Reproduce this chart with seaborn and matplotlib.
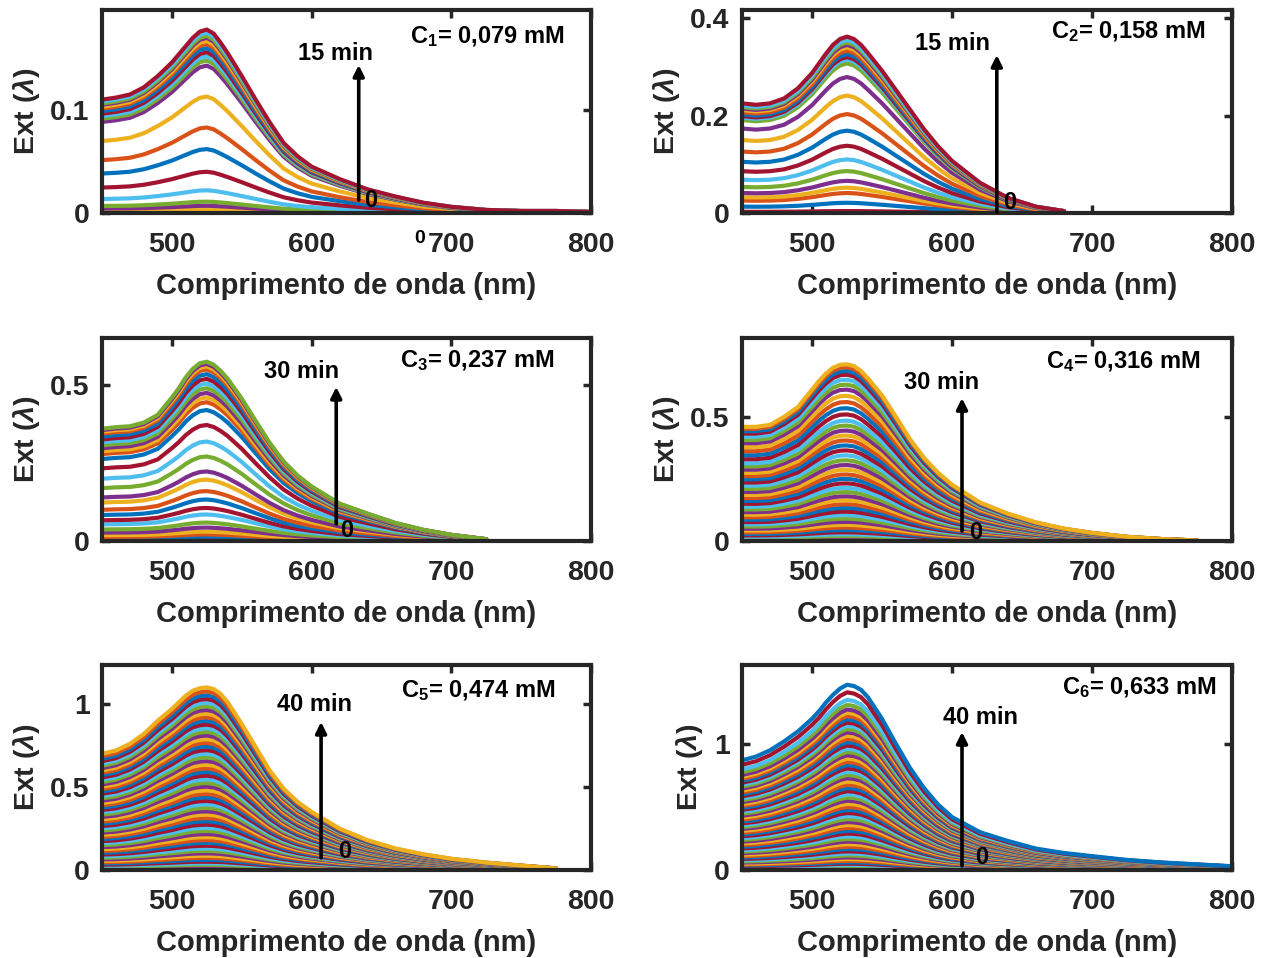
import numpy as np
import pandas as pd
import matplotlib
matplotlib.use("Agg")
import matplotlib.pyplot as plt
import seaborn as sns

# ---------------- data ----------------
wavelength = [450, 460, 470, 480, 490, 500, 505, 510, 515, 520, 525, 530, 535, 540,
              550, 560, 570, 580, 590, 600, 620, 640, 660, 680, 700, 725, 750, 775, 800]

# uppermost (final) spectrum of each series
top_c1 = [0.11, 0.112, 0.115, 0.122, 0.133, 0.146, 0.154, 0.162, 0.17, 0.176, 0.178, 0.174, 0.165, 0.155,
          0.133, 0.11, 0.088, 0.068, 0.055, 0.045, 0.033, 0.023, 0.016, 0.01, 0.006, 0.003, 0.002, 0.002, 0.001]
top_c2 = [0.225, 0.222, 0.225, 0.235, 0.256, 0.287, 0.307, 0.327, 0.345, 0.357, 0.362, 0.357, 0.345, 0.328,
          0.292, 0.252, 0.212, 0.172, 0.137, 0.107, 0.062, 0.031, 0.013, 0.004, 0, 0, 0, 0, 0]
top_c3 = [0.36, 0.365, 0.368, 0.38, 0.405, 0.46, 0.49, 0.525, 0.552, 0.57, 0.575, 0.565, 0.545, 0.52,
          0.457, 0.385, 0.315, 0.255, 0.21, 0.175, 0.12, 0.088, 0.058, 0.036, 0.02, 0.006, 0, 0, 0]
top_c4 = [0.46, 0.46, 0.468, 0.5, 0.54, 0.61, 0.645, 0.675, 0.698, 0.71, 0.712, 0.705, 0.685, 0.655,
          0.587, 0.5, 0.41, 0.335, 0.275, 0.227, 0.155, 0.11, 0.075, 0.05, 0.033, 0.017, 0.008, 0.002, 0]
top_c5 = [0.7, 0.72, 0.76, 0.82, 0.9, 0.97, 1.01, 1.05, 1.08, 1.095, 1.1, 1.09, 1.06, 1.01,
          0.88, 0.74, 0.6, 0.49, 0.41, 0.35, 0.25, 0.18, 0.13, 0.095, 0.068, 0.045, 0.027, 0.01, 0]
top_c6 = [0.87, 0.9, 0.95, 1.02, 1.1, 1.2, 1.26, 1.33, 1.39, 1.44, 1.47, 1.46, 1.43, 1.37,
          1.2, 1.0, 0.81, 0.65, 0.52, 0.42, 0.3, 0.23, 0.17, 0.135, 0.11, 0.08, 0.06, 0.045, 0.03]

# peak extinction of every recorded spectrum (time order)
peaks_c1 = [0.001, 0.002, 0.004, 0.007, 0.011, 0.022, 0.040, 0.062, 0.083, 0.113, 0.143,
            0.148, 0.152, 0.156, 0.160, 0.164, 0.167, 0.170, 0.172, 0.175, 0.178]
peaks_c2 = [0.0005, 0.001, 0.0015, 0.002, 0.002, 0.003, 0.004, 0.021, 0.041, 0.052, 0.066,
            0.086, 0.11, 0.138, 0.169, 0.203, 0.241, 0.279, 0.307, 0.315, 0.32, 0.326,
            0.333, 0.34, 0.345, 0.35, 0.355, 0.362]
peaks_c3 = [0.0, 0.001, 0.002, 0.003, 0.004, 0.006, 0.009, 0.014, 0.021, 0.03, 0.043,
            0.059, 0.085, 0.106, 0.133, 0.16, 0.197, 0.223, 0.271, 0.319, 0.372, 0.42,
            0.445, 0.46, 0.475, 0.49, 0.505, 0.52, 0.535, 0.55, 0.56, 0.568, 0.575]
peaks_c4 = [0.003, 0.006, 0.01, 0.015, 0.02, 0.027, 0.035, 0.044, 0.054, 0.065,
            0.077, 0.09, 0.104, 0.118, 0.133, 0.148, 0.164, 0.18, 0.197, 0.214,
            0.232, 0.25, 0.268, 0.287, 0.306, 0.325, 0.345, 0.365, 0.385, 0.405,
            0.425, 0.445, 0.465, 0.485, 0.51, 0.535, 0.56, 0.585, 0.61, 0.63,
            0.65, 0.67, 0.685, 0.7, 0.712]
peaks_c5 = [0.005, 0.01, 0.016, 0.023, 0.031, 0.04, 0.05, 0.061, 0.073, 0.086,
            0.1, 0.115, 0.13, 0.146, 0.163, 0.18, 0.198, 0.216, 0.235, 0.254,
            0.273, 0.293, 0.313, 0.333, 0.353, 0.374, 0.395, 0.416, 0.437, 0.458,
            0.48, 0.502, 0.524, 0.546, 0.568, 0.59, 0.612, 0.634, 0.656, 0.678,
            0.7, 0.722, 0.744, 0.766, 0.788, 0.81, 0.832, 0.854, 0.876, 0.898,
            0.92, 0.942, 0.964, 0.986, 1.008, 1.03, 1.052, 1.076, 1.1]
peaks_c6 = [0.005, 0.01, 0.016, 0.023, 0.031, 0.04, 0.05, 0.061, 0.073, 0.086,
            0.1, 0.115, 0.131, 0.148, 0.166, 0.185, 0.205, 0.225, 0.246, 0.267,
            0.289, 0.311, 0.334, 0.357, 0.38, 0.404, 0.428, 0.452, 0.476, 0.5,
            0.525, 0.55, 0.575, 0.6, 0.625, 0.65, 0.676, 0.702, 0.728, 0.754,
            0.78, 0.806, 0.832, 0.858, 0.884, 0.91, 0.936, 0.962, 0.988, 1.014,
            1.04, 1.066, 1.092, 1.118, 1.144, 1.17, 1.196, 1.222, 1.248, 1.274,
            1.31, 1.35, 1.41, 1.47]

conc_labels = [r"C$_{1}$= 0,079 mM", r"C$_{2}$= 0,158 mM", r"C$_{3}$= 0,237 mM",
               r"C$_{4}$= 0,316 mM", r"C$_{5}$= 0,474 mM", r"C$_{6}$= 0,633 mM"]
time_labels = ["15 min", "15 min", "30 min", "30 min", "40 min", "40 min"]
y_ticks = [[0, 0.1], [0, 0.2, 0.4], [0, 0.5], [0, 0.5], [0, 0.5, 1], [0, 1]]
y_ticklabels = [["0", "0.1"], ["0", "0.2", "0.4"], ["0", "0.5"], ["0", "0.5"],
                ["0", "0.5", "1"], ["0", "1"]]
x_ticks = [500, 600, 700, 800]
x_ticklabels = ["500", "600", "700", "800"]

tops = [top_c1, top_c2, top_c3, top_c4, top_c5, top_c6]
peaks = [peaks_c1, peaks_c2, peaks_c3, peaks_c4, peaks_c5, peaks_c6]

# ---------------- styling / layout ----------------
sns.set_theme(style="ticks")
plt.rcParams["font.family"] = ["Liberation Sans", "DejaVu Sans"]
plt.rcParams["font.weight"] = "bold"
plt.rcParams["mathtext.fontset"] = "custom"
plt.rcParams["mathtext.rm"] = "Liberation Sans:bold"
plt.rcParams["mathtext.bf"] = "Liberation Sans:bold"
plt.rcParams["mathtext.it"] = "Liberation Sans:italic"

matlab_colors = ["#0072BD", "#D95319", "#EDB120", "#7E2F8E", "#77AC30", "#4DBEEE", "#A2142F"]
ink = "#262626"

fig = plt.figure(figsize=(12.72, 9.58), dpi=100)

col_left = [102 / 1272, 742 / 1272]
col_w = [489 / 1272, 490 / 1272]
row_b = [745 / 958, 417 / 958, 88 / 958]
row_h = [203 / 958, 203 / 958, 205 / 958]
y_max = [0.197, 0.4166, 0.651, 0.818, 1.235, 1.627]

# annotation positions in axes fraction
arrow_x = [0.525, 0.52, 0.479, 0.449, 0.448, 0.449]
arrow_y0 = [0.064, 0.005, 0.084, 0.049, 0.059, 0.02]
arrow_y1 = [0.729, 0.778, 0.759, 0.704, 0.722, 0.673]
tlab_xy = [(0.477, 0.788), (0.43, 0.833), (0.409, 0.837), (0.408, 0.783), (0.434, 0.805), (0.486, 0.746)]
zero_xy = [(0.55, 0.064), (0.547, 0.05), (0.501, 0.054), (0.476, 0.04), (0.497, 0.088), (0.49, 0.063)]
conc_xy = [(0.788, 0.867), (0.788, 0.892), (0.768, 0.887), (0.778, 0.882), (0.77, 0.873), (0.81, 0.888)]

for k in range(6):
    r, c = divmod(k, 2)
    ax = fig.add_axes([col_left[c], row_b[r], col_w[c], row_h[r]])
    top = np.array(tops[k], dtype=float)
    rows = []
    for i, pk in enumerate(peaks[k]):
        for w, t in zip(wavelength, top):
            if t > 0:
                rows.append((i, w, t * pk / top.max()))
    df = pd.DataFrame(rows, columns=["curve", "wl", "ext"])
    pal = {i: matlab_colors[i % 7] for i in range(len(peaks[k]))}
    sns.lineplot(data=df, x="wl", y="ext", hue="curve", palette=pal, units="curve",
                 estimator=None, sort=False, legend=False, linewidth=3.0, ax=ax)

    ax.set_xlim(450, 800)
    ax.set_ylim(0, y_max[k])
    ax.set_xticks(x_ticks)
    ax.set_xticklabels(x_ticklabels)
    ax.set_yticks(y_ticks[k])
    ax.set_yticklabels(y_ticklabels[k])
    ax.tick_params(direction="in", length=6, width=2.5, color=ink, labelsize=20.5,
                   labelcolor=ink, top=True, right=True)
    ax.tick_params(axis="x", pad=14)
    ax.tick_params(axis="y", pad=9)
    for lab in ax.get_xticklabels() + ax.get_yticklabels():
        lab.set_fontweight("bold")
    for sp in ax.spines.values():
        sp.set_visible(True)
        sp.set_linewidth(3)
        sp.set_color(ink)
    ax.set_xlabel("Comprimento de onda (nm)", fontsize=21, fontweight="bold", color=ink, labelpad=10)
    ax.set_ylabel(r"Ext ($\lambda$)", fontsize=20.5, fontweight="bold", color=ink, labelpad=6)

    ax.annotate("", xy=(arrow_x[k], arrow_y1[k]), xytext=(arrow_x[k], arrow_y0[k]),
                xycoords="axes fraction", textcoords="axes fraction",
                arrowprops=dict(arrowstyle="-|>", color="black", lw=2.6,
                                mutation_scale=16, shrinkA=0, shrinkB=0))
    ax.text(*tlab_xy[k], time_labels[k], transform=ax.transAxes, ha="center", va="center",
            fontsize=17, fontweight="bold", color="black")
    ax.text(*zero_xy[k], "0", transform=ax.transAxes, ha="center", va="center",
            fontsize=17, fontweight="bold", color="black")
    ax.text(*conc_xy[k], conc_labels[k], transform=ax.transAxes, ha="center", va="center",
            fontsize=17, fontweight="bold", color="black")
    if k == 0:
        ax.text(0.65, -0.128, "0", transform=ax.transAxes, ha="center", va="center",
                fontsize=14, fontweight="bold", color="black", clip_on=False)

fig.savefig("out.png", dpi=100)
